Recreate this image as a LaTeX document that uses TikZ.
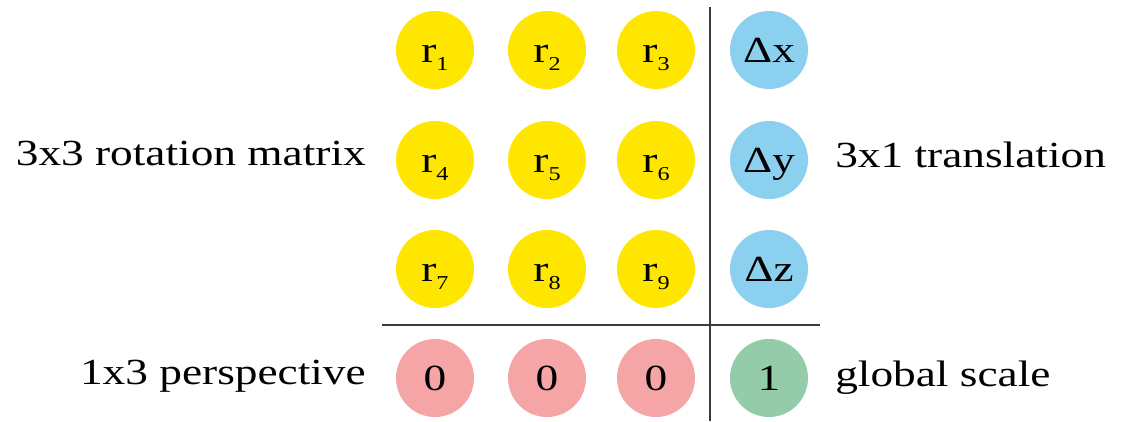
\documentclass[tikz,border=0pt]{standalone}
\usepackage{fontspec}
\setmainfont{Liberation Serif}[FakeStretch=1.23]
\usepackage{tikz}
\usetikzlibrary{positioning}

\definecolor{rotyellow}{RGB}{255,230,0}
\definecolor{transblue}{RGB}{140,208,240}
\definecolor{perspink}{RGB}{245,165,165}
\definecolor{scalegreen}{RGB}{148,204,170}
\definecolor{sepgray}{RGB}{60,60,60}

\newcommand{\relem}[1]{r\raisebox{-0.22em}{\fontsize{14pt}{14pt}\selectfont #1}}

\tikzset{
  entry/.style={circle, minimum size=1.95cm, inner sep=0pt, text height=17.3pt, text depth=0pt},
  rot/.style={entry, fill=rotyellow},
  trans/.style={entry, fill=transblue},
  pers/.style={entry, fill=perspink},
  glob/.style={entry, fill=scalegreen},
  tag/.style={inner sep=0pt},
  sepline/.style={draw=sepgray, line width=1.1pt}
}

\begin{document}
\begin{tikzpicture}[x=0.025cm, y=-0.025cm, font=\fontsize{26.2pt}{31pt}\selectfont]
            \useasboundingbox (0,0) rectangle (1122,421);

            % Rotation entries
            \node[rot] (r1) at (435, 50) {\relem{1}};
            \node[rot] (r2) at (547, 50) {\relem{2}};
            \node[rot] (r3) at (656, 50) {\relem{3}};
            \node[rot] (r4) at (435,160) {\relem{4}};
            \node[rot] (r5) at (547,160) {\relem{5}};
            \node[rot] (r6) at (656,160) {\relem{6}};
            \node[rot] (r7) at (435,269) {\relem{7}};
            \node[rot] (r8) at (547,269) {\relem{8}};
            \node[rot] (r9) at (656,269) {\relem{9}};

            % Translation entries
            \node[trans] (dx) at (769, 50) {Δx};
            \node[trans] (dy) at (769,160) {Δy};
            \node[trans] (dz) at (769,269) {Δz};

            % Bottom row
            \node[pers] (p1) at (435,378) {0};
            \node[pers] (p2) at (547,378) {0};
            \node[pers] (p3) at (656,378) {0};
            \node[glob] (gs) at (769,378) {1};

            % Labels
            \node[tag, anchor=base east] (rotlabel) at (366,165) {3x3 rotation matrix};
            \node[tag, anchor=base east] (perslabel) at (366,384) {1x3 perspective};
            \node[tag, anchor=base west] (translabel) at (835,167) {3x1 translation};
            \node[tag, anchor=base west] (scalelabel) at (835,386) {global scale};

            % Separators
            \coordinate (vtop) at (710,7);
            \coordinate (vbot) at (710,421);
            \coordinate (hleft) at (382,325);
            \coordinate (hright) at (820,325);
            \draw[sepline] (vtop) -- (vbot);
            \draw[sepline] (hleft) -- (hright);
\end{tikzpicture}
\end{document}
